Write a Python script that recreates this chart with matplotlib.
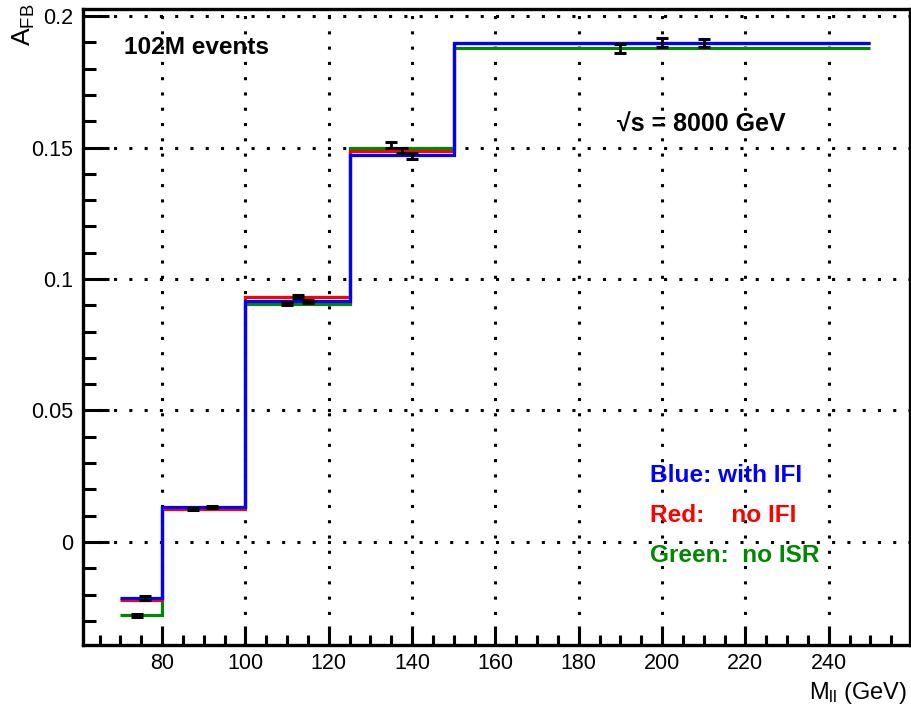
import matplotlib
matplotlib.use("Agg")
import matplotlib.pyplot as plt
import numpy as np

plt.rcParams['font.family'] = ['Liberation Sans', 'DejaVu Sans']
plt.rcParams['mathtext.fontset'] = 'custom'
plt.rcParams['mathtext.rm'] = 'Liberation Sans'
plt.rcParams['mathtext.it'] = 'Liberation Sans:italic'
plt.rcParams['mathtext.bf'] = 'Liberation Sans:bold'

# ---- data ----
bin_edges = [70, 80, 100, 125, 150, 250]
blue_with_ifi = [-0.0214, 0.0133, 0.0918, 0.1473, 0.1896]
red_no_ifi = [-0.0221, 0.0124, 0.0930, 0.1487, 0.1896]
green_no_isr = [-0.0279, 0.0128, 0.0906, 0.1500, 0.1877]

err_x = [74, 76, 87.5, 92, 110, 112.5, 115, 135, 137.5, 140, 190, 200, 210]
err_y = [-0.0280, -0.0214, 0.0125, 0.0133, 0.0906, 0.0933, 0.0916,
         0.1510, 0.1490, 0.1468, 0.1875, 0.1899, 0.1896]
err_e = [0.0007, 0.0007, 0.0004, 0.0004, 0.0006, 0.0006, 0.0006,
         0.0013, 0.0010, 0.0013, 0.0017, 0.0018, 0.0015]

x_major = [80, 100, 120, 140, 160, 180, 200, 220, 240]
y_major = [0, 0.05, 0.1, 0.15, 0.2]
y_labels = ['0', '0.05', '0.1', '0.15', '0.2']

W, H = 911, 709
fig = plt.figure(figsize=(W/100, H/100), dpi=100)
ax = fig.add_axes([83/W, 64/H, 827/W, 636/H])

ax.stairs(green_no_isr, bin_edges, baseline=None, color='#008800', lw=2.3, zorder=3)
ax.stairs(red_no_ifi, bin_edges, baseline=None, color='#ff0000', lw=2.3, zorder=4)
ax.stairs(blue_with_ifi, bin_edges, baseline=None, color='#0000ff', lw=2.3, zorder=5)

ax.errorbar(err_x, err_y, yerr=err_e, fmt='none', ecolor='black', elinewidth=2.0,
            capsize=4.5, capthick=2.2, zorder=6)

ax.set_xlim(61, 259.5)
ax.set_ylim(-0.0392, 0.2027)

ax.set_xticks(x_major)
ax.set_xticklabels([str(v) for v in x_major])
ax.set_xticks(np.arange(65, 260, 5), minor=True)
ax.set_yticks(y_major)
ax.set_yticklabels(y_labels)
ax.set_yticks(np.arange(-0.03, 0.201, 0.01), minor=True)

ax.tick_params(axis='x', which='major', direction='in', length=14, width=2.2,
               labelsize=15.5, pad=6, top=False)
ax.tick_params(axis='x', which='minor', direction='in', length=7, width=2.2, top=False)
ax.tick_params(axis='y', which='major', direction='in', length=19, width=2.2,
               labelsize=15.5, pad=7, right=False)
ax.tick_params(axis='y', which='minor', direction='in', length=9, width=2.2, right=False)

for s in ax.spines.values():
    s.set_linewidth(2.4)

ax.grid(True, which='major', color='black', linestyle=(0, (1, 4)), linewidth=2.2, zorder=1)
ax.set_axisbelow(True)

fig.text(124/W, 1 - 47/H, '102M events', fontsize=17.6, fontweight='bold',
         va='center', ha='left')
fig.text(617/W, 1 - 125/H, '\u221as = 8000 GeV', fontsize=18, fontweight='bold',
         va='center', ha='left')

fig.text(650/W, 1 - 476/H, 'Blue: with IFI', color='#0000ff', fontsize=17.6,
         fontweight='bold', va='center', ha='left')
fig.text(650/W, 1 - 515/H, 'Red:    no IFI', color='#ff0000', fontsize=17.6,
         fontweight='bold', va='center', ha='left')
fig.text(650/W, 1 - 555/H, 'Green:  no ISR', color='#008800', fontsize=17.6,
         fontweight='bold', va='center', ha='left')

fig.text(11/W, 1 - 4/H, r'A$_{\mathrm{FB}}$', fontsize=19, rotation=90,
         ha='left', va='top')
fig.text(907/W, 3/H, r'M$_{\mathrm{ll}}$ (GeV)', fontsize=17, ha='right', va='bottom')

fig.savefig('out.png', dpi=100)
